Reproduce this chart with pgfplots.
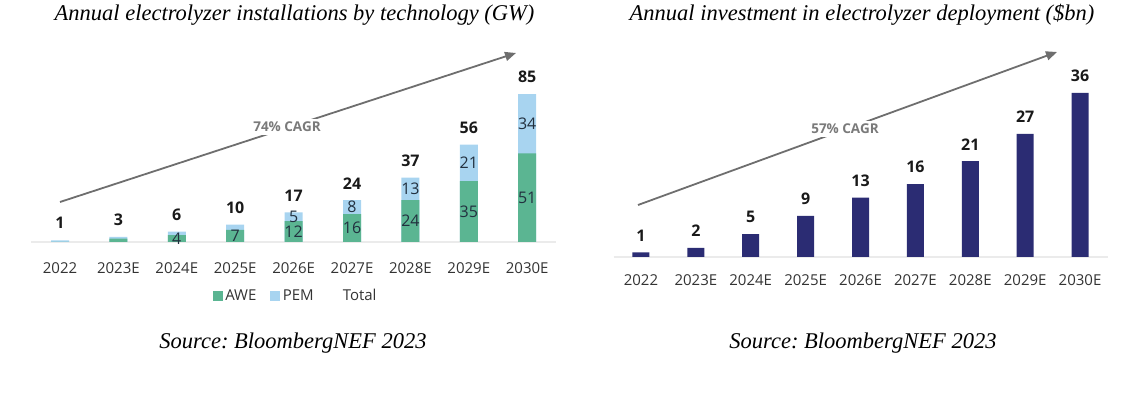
\documentclass[border=0pt]{standalone}
\usepackage{fontspec}
\setmainfont{Liberation Serif}
\newfontfamily\lab{Open Sans}
\usepackage{pgfplots}
\pgfplotsset{compat=1.18}
\usepackage{pgfplotstable}
\usetikzlibrary{arrows.meta}
\definecolor{awe}{HTML}{5BB592}
\definecolor{pem}{HTML}{A8D4F0}
\definecolor{navy}{HTML}{2B2C73}
\definecolor{arr}{HTML}{6E6E6E}
\definecolor{cagr}{HTML}{7A7A7A}
\definecolor{txt}{HTML}{333333}
\definecolor{inner}{HTML}{22303F}
\frenchspacing

\pgfplotstableread{
x awe pem total
0 0 1 1
1 2 1 3
2 4 2 6
3 7 3 10
4 12 5 17
5 16 8 24
6 24 13 37
7 35 21 56
8 51 34 85
}\techdata

\pgfplotstableread{
x inv
0 1
1 2
2 5
3 9
4 13
5 16
6 21
7 27
8 36
}\invdata

\begin{document}
\begin{tikzpicture}[x=1pt,y=1pt]
\path[use as bounding box] (0,0) rectangle (1142,398);

% ---------- left chart ----------
\begin{axis}[at={(30.8pt,156pt)}, anchor=south west, scale only axis,
  width=525.6pt, height=200pt, xmin=-0.5, xmax=8.5, ymin=0, ymax=114.94,
  clip=false, axis y line=none, axis x line*=bottom,
  x axis line style={-, draw=black!8, line width=1.5pt},
  /pgf/number format/assume math mode=true,
  xtick={0,...,8}, major tick length=0pt,
  xticklabels={2022,2023E,2024E,2025E,2026E,2027E,2028E,2029E,2030E},
  xticklabel style={font=\lab\fontsize{15}{17}\selectfont, text=txt, anchor=center, yshift=-26pt},
  legend style={at={(0.505,-0.27)}, anchor=center, draw=none, fill=none,
    font=\lab\fontsize{15}{17}\selectfont, text=txt,
    nodes={inner xsep=3pt},
    /tikz/every even column/.append style={column sep=11pt}},
  legend columns=-1,
]
\addplot[forget plot, ybar, bar width=18pt, bar shift=0pt, fill=pem, draw=none] table[x=x,y=total]{\techdata};
\addplot[forget plot, ybar, bar width=18pt, bar shift=0pt, fill=awe, draw=none] table[x=x,y=awe]{\techdata};
\addplot[forget plot, draw=none, nodes near coords, point meta=explicit,
  every node near coord/.append style={font=\lab\bfseries\fontsize{16}{18}\selectfont, text=black!90, anchor=center, yshift=17pt}]
  table[x=x,y=total,meta=total]{\techdata};
\addplot[forget plot, draw=none, nodes near coords, point meta=explicit,
  skip coords between index={0}{2},
  every node near coord/.append style={font=\lab\fontsize{16}{18}\selectfont, text=inner, anchor=center}]
  table[x=x,y expr=\thisrow{awe}/2,meta=awe]{\techdata};
\addplot[forget plot, draw=none, nodes near coords, point meta=explicit,
  skip coords between index={0}{4},
  every node near coord/.append style={font=\lab\fontsize{16}{18}\selectfont, text=inner, anchor=center}]
  table[x=x,y expr=\thisrow{awe}+\thisrow{pem}/2,meta=pem]{\techdata};
\addlegendimage{legend image code/.code={\fill[awe] (0pt,-4.5pt) rectangle (9pt,4.5pt);}}
\addlegendentry{AWE}
\addlegendimage{legend image code/.code={\fill[pem] (0pt,-4.5pt) rectangle (9pt,4.5pt);}}
\addlegendentry{PEM}
\addlegendimage{legend image code/.code={\path[draw=none] (0pt,-4.5pt) rectangle (12pt,4.5pt);}}
\addlegendentry{Total}
\end{axis}

% ---------- right chart ----------
\begin{axis}[at={(613.5pt,141pt)}, anchor=south west, scale only axis,
  width=494pt, height=200pt, xmin=-0.5, xmax=8.5, ymin=0, ymax=43.86,
  clip=false, axis y line=none, axis x line*=bottom,
  x axis line style={-, draw=black!8, line width=1.5pt},
  /pgf/number format/assume math mode=true,
  xtick={0,...,8}, major tick length=0pt,
  xticklabels={2022,2023E,2024E,2025E,2026E,2027E,2028E,2029E,2030E},
  xticklabel style={font=\lab\fontsize{15}{17}\selectfont, text=txt, anchor=center, yshift=-23pt},
]
\addplot[ybar, bar width=17pt, bar shift=0pt, fill=navy, draw=none,
  nodes near coords, point meta=explicit,
  every node near coord/.append style={font=\lab\bfseries\fontsize{16}{18}\selectfont, text=black!90, anchor=center, yshift=17pt}]
  table[x=x,y=inv,meta=inv]{\invdata};
\end{axis}

% ---------- CAGR arrows ----------
\draw[arr, line width=1.8pt, -{Triangle[length=11pt,width=9pt]}] (60,196) -- (516,345);
\node[fill=white, inner xsep=8pt, font=\lab\bfseries\fontsize{13.5}{15}\selectfont, text=cagr] at (287,271) {74\% CAGR};
\draw[arr, line width=1.8pt, -{Triangle[length=11pt,width=9pt]}] (638,193) -- (1057,346);
\node[fill=white, inner xsep=8pt, font=\lab\bfseries\fontsize{13.5}{15}\selectfont, text=cagr] at (845,269) {57\% CAGR};

% ---------- titles and sources ----------
\node[font=\itshape\fontsize{22.5}{26}\selectfont] at (294.5,383) {Annual electrolyzer installations by technology (GW)};
\node[font=\itshape\fontsize{22.5}{26}\selectfont] at (862,383) {Annual investment in electrolyzer deployment (\$bn)};
\node[font=\itshape\fontsize{22.5}{26}\selectfont] at (293,55) {Source: BloombergNEF 2023};
\node[font=\itshape\fontsize{22.5}{26}\selectfont] at (863,55) {Source: BloombergNEF 2023};
\end{tikzpicture}
\end{document}
